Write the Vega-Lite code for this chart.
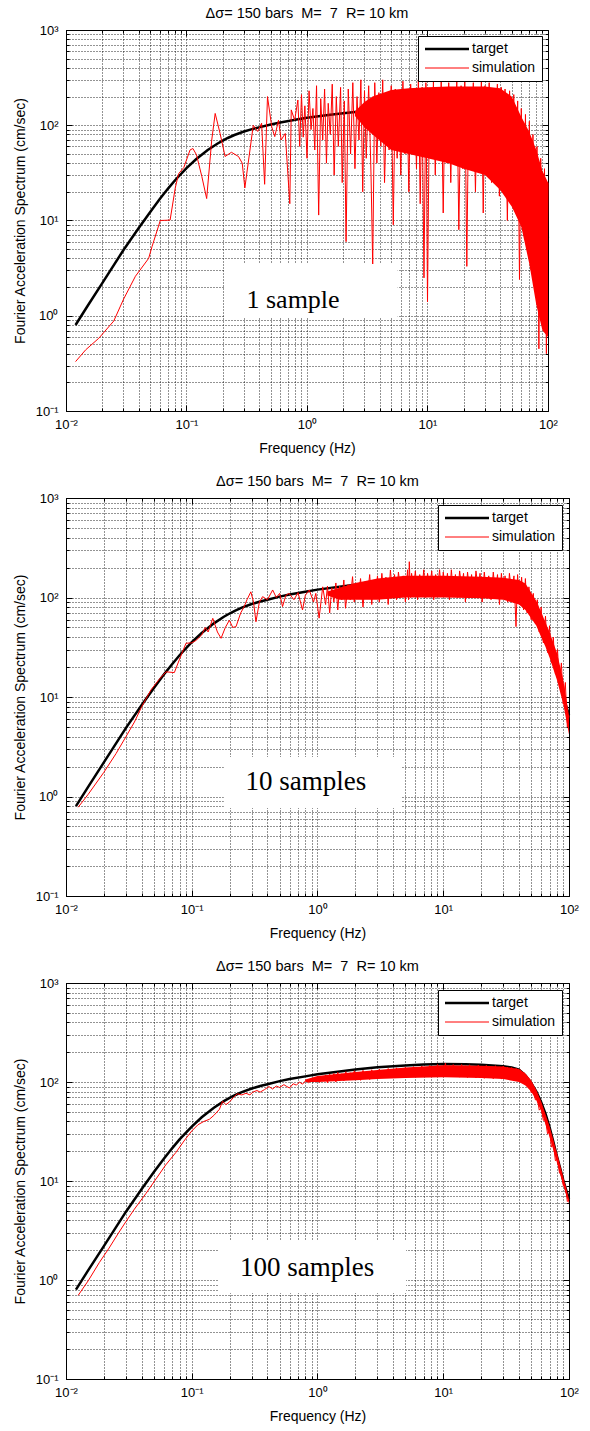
{
"$schema": "https://vega.github.io/schema/vega-lite/v6.json",
"background": "white",
"padding": {"left": 12, "top": 5, "right": 5, "bottom": 5},
"spacing": 17,
"resolve": {"scale": {"color": "independent", "x": "independent", "y": "independent"}, "legend": {"color": "independent"}},
"config": {
  "view": {"stroke": "#000", "strokeWidth": 1},
  "font": "Liberation Sans",
  "title": {"font": "Liberation Sans", "fontSize": 14.5, "fontWeight": "normal", "color": "#000", "offset": 3, "anchor": "middle"},
  "axis": {"domainColor": "#000", "tickColor": "#000", "tickWidth": 1, "gridColor": "#000", "gridDash": [1, 2], "gridOpacity": 0.85, "gridWidth": 1, "labelFont": "Liberation Sans", "labelFontSize": 13, "labelColor": "#000", "titleFont": "Liberation Sans", "titleFontSize": 14, "titleFontWeight": "normal", "titleColor": "#000", "labelOverlap": false, "labelFlush": false}
},
"vconcat": [
{
  "width": 482, "height": 381,
  "title": "Δσ=\u00a0150\u00a0bars\u00a0\u00a0M=\u00a0\u00a07\u00a0\u00a0R=\u00a010\u00a0km",
  "resolve": {"axis": {"x": "independent", "y": "independent"}},
  "layer": [
    {
      "data": {"values": "f,a\n0.012,0.8\n0.015,1.25\n0.02,2.2\n0.03,4.9\n0.04,8.3\n0.05,12.3\n0.06,16.8\n0.07,21.5\n0.08,26.3\n0.1,35.5\n0.12,44\n0.15,55\n0.18,64\n0.2,69\n0.22,73.5\n0.25,79\n0.3,86\n0.35,91\n0.4,95\n0.5,102\n0.6,107\n0.8,114\n1,120\n1.5,128\n2,134\n3,141\n5,147\n7,150\n10,152\n15,151\n20,149\n30,144\n35,140\n40,133\n45,117\n50,98\n55,80\n60,63\n65,48\n70,35\n75,25\n80,18\n85,13.5\n90,10.2\n95,8.1\n100,6.6", "format": {"type": "csv", "parse": {"f": "number", "a": "number"}}},
      "mark": {"type": "line", "strokeWidth": 2.5},
      "encoding": {
        "x": {"field": "f", "type": "quantitative", "scale": {"type": "log", "domain": [0.01, 100], "nice": false},
              "axis": {"orient": "bottom", "title": "Frequency (Hz)", "grid": true, "values": [0.01,0.02,0.03,0.04,0.05,0.06,0.07,0.08,0.09,0.1,0.2,0.3,0.4,0.5,0.6,0.7,0.8,0.9,1,2,3,4,5,6,7,8,9,10,20,30,40,50,60,70,80,90,100],
                       "labelExpr": "abs(log(datum.value)/LN10-round(log(datum.value)/LN10))<0.01 ? ['10⁻²','10⁻¹','10⁰','10¹','10²','10³'][round(log(datum.value)/LN10)+2] : ''",
                       "tickSize": {"condition": {"test": "abs(log(datum.value)/LN10-round(log(datum.value)/LN10))<0.01", "value": -6}, "value": -3},
                       "labelPadding": 13, "titlePadding": 7}},
        "y": {"field": "a", "type": "quantitative", "scale": {"type": "log", "domain": [0.1, 1000], "nice": false},
              "axis": {"orient": "left", "title": "Fourier Acceleration Spectrum (cm/sec)", "grid": true, "values": [0.1,0.2,0.3,0.4,0.5,0.6,0.7,0.8,0.9,1,2,3,4,5,6,7,8,9,10,20,30,40,50,60,70,80,90,100,200,300,400,500,600,700,800,900,1000],
                       "labelExpr": "abs(log(datum.value)/LN10-round(log(datum.value)/LN10))<0.01 ? ['10⁻²','10⁻¹','10⁰','10¹','10²','10³'][round(log(datum.value)/LN10)+2] : ''",
                       "tickSize": {"condition": {"test": "abs(log(datum.value)/LN10-round(log(datum.value)/LN10))<0.01", "value": -6}, "value": -3},
                       "labelPadding": 14, "titlePadding": 8}},
        "color": {"datum": "target", "type": "nominal", "scale": {"domain": ["target", "simulation"], "range": ["#000000", "#ff0000"]},
                  "legend": {"title": null, "orient": "top-right", "offset": 6, "padding": 6, "strokeColor": "#000", "fillColor": "#fff", "cornerRadius": 0, "symbolType": "M-2.2,0H2.2", "symbolSize": 400, "symbolOffset": 16, "labelOffset": 18, "labelFont": "Liberation Sans", "labelFontSize": 14, "labelColor": "#000", "rowPadding": 5,
                             "encode": {"symbols": {"update": {"strokeWidth": {"signal": "datum.value === 'target' ? 2.5 : 1"}}}}}}
      }
    },
    {
      "data": {"values": "f,lo,hi\n2.5,125,140\n3,95,175\n3.5,80,200\n5,55,235\n7,50,245\n10,45,250\n15,40,255\n20,35,255\n30,30,255\n40,21,245\n50,14,200\n60,8.6,123\n70,3.5,85\n80,1.3,55\n90,0.7,33\n100,0.6,25", "format": {"type": "csv", "parse": {"f": "number", "lo": "number", "hi": "number"}}},
      "mark": {"type": "area", "color": "#ff0000"},
      "encoding": {
        "x": {"field": "f", "type": "quantitative", "axis": null},
        "y": {"field": "lo", "type": "quantitative", "axis": null},
        "y2": {"field": "hi"}
      }
    },
    {
      "data": {"values": "f,a\n0.012,0.33\n0.0146,0.44\n0.0187,0.58\n0.0249,0.88\n0.0301,1.5\n0.0377,2.6\n0.0485,4\n0.0517,5.3\n0.0606,10\n0.0731,10.1\n0.0807,22\n0.086,31\n0.095,36\n0.107,55\n0.113,57\n0.121,49\n0.134,29\n0.147,17\n0.162,70\n0.173,133\n0.19,82\n0.209,47\n0.236,52\n0.27,47\n0.29,40\n0.305,22\n0.345,70\n0.358,100\n0.39,86\n0.42,105\n0.445,24\n0.47,200\n0.51,96\n0.54,76\n0.58,113\n0.61,70\n0.66,82\n0.72,15\n0.74,145\n0.79,113\n0.84,184\n0.87,60\n0.9,210\n0.93,75\n0.96,160\n1,45\n1.04,230\n1.08,90\n1.12,150\n1.16,55\n1.2,260\n1.25,11.4\n1.3,190\n1.35,70\n1.4,240\n1.45,40\n1.5,170\n1.56,80\n1.62,270\n1.68,30\n1.75,200\n1.82,60\n1.9,250\n1.96,25\n2.04,180\n2.11,6\n2.2,240\n2.3,50\n2.4,280\n2.5,35\n2.6,200\n2.7,70\n2.8,300\n2.9,20\n3,230\n3.1,45\n3.25,260\n3.4,30\n3.51,3.4\n3.65,280\n3.8,40\n3.95,220\n4.1,60\n4.25,300\n4.4,25\n4.6,190\n4.8,55\n5,260\n5.2,9\n5.4,240\n5.6,45\n5.8,200\n6,30\n6.25,290\n6.5,50\n6.75,230\n7,20\n7.25,270\n7.5,60\n7.8,210\n8.1,35\n8.4,300\n8.7,15\n9,250\n9.35,2.5\n9.7,280\n10,1.4\n10.4,240\n10.8,45\n11.2,290\n11.6,30\n12,220\n12.5,55\n13,300\n13.5,12\n14,250\n14.5,40\n15,280\n15.6,25\n16.2,230\n16.8,50\n17.5,290\n18.2,8\n19,260\n19.6,35\n20.4,300\n21.2,3.3\n22,240\n23,45\n24,280\n25,20\n26,250\n27,55\n28,290\n29,12\n30,260\n31,40\n32.5,280\n34,25\n35,240\n36.5,50\n38,270\n39.5,18\n41,250\n42.5,35\n44,240\n46,10\n48,230\n50,25\n52,210\n54,15\n56,180\n58,2.4\n60,150\n62.5,8\n65,130\n67.5,5\n70,110\n72.5,3\n75,80\n78,2\n81,60\n84,0.45\n87,45\n90,1.2\n93.5,35\n97,0.4\n100,25", "format": {"type": "csv", "parse": {"f": "number", "a": "number"}}},
      "mark": {"type": "line", "strokeWidth": 1},
      "encoding": {
        "x": {"field": "f", "type": "quantitative", "axis": null},
        "y": {"field": "a", "type": "quantitative", "axis": null},
        "color": {"datum": "simulation", "type": "nominal"}
      }
    },
    {
      "data": {"values": [{}]},
      "mark": {"type": "rect", "fill": "#fff"},
      "encoding": {
        "x": {"datum": 0.206, "type": "quantitative", "axis": {"orient": "top", "labels": false, "title": null, "grid": false, "domain": false, "values": [0.01,0.02,0.03,0.04,0.05,0.06,0.07,0.08,0.09,0.1,0.2,0.3,0.4,0.5,0.6,0.7,0.8,0.9,1,2,3,4,5,6,7,8,9,10,20,30,40,50,60,70,80,90,100],
              "tickSize": {"condition": {"test": "abs(log(datum.value)/LN10-round(log(datum.value)/LN10))<0.01", "value": -6}, "value": -3}}},
        "x2": {"datum": 5.65},
        "y": {"datum": 3.5, "type": "quantitative", "axis": {"orient": "right", "labels": false, "title": null, "grid": false, "domain": false, "values": [0.1,0.2,0.3,0.4,0.5,0.6,0.7,0.8,0.9,1,2,3,4,5,6,7,8,9,10,20,30,40,50,60,70,80,90,100,200,300,400,500,600,700,800,900,1000],
              "tickSize": {"condition": {"test": "abs(log(datum.value)/LN10-round(log(datum.value)/LN10))<0.01", "value": -6}, "value": -3}}},
        "y2": {"datum": 0.946}
      }
    },
    {
      "data": {"values": [{}]},
      "mark": {"type": "text", "text": "1 sample", "font": "Liberation Serif", "fontSize": 26, "align": "center", "baseline": "alphabetic", "color": "#000"},
      "encoding": {
        "x": {"datum": 0.766, "type": "quantitative", "axis": null},
        "y": {"datum": 1.2, "type": "quantitative", "axis": null}
      }
    }
  ]
},
{
  "width": 503, "height": 398,
  "title": "Δσ=\u00a0150\u00a0bars\u00a0\u00a0M=\u00a0\u00a07\u00a0\u00a0R=\u00a010\u00a0km",
  "resolve": {"axis": {"x": "independent", "y": "independent"}},
  "layer": [
    {
      "data": {"values": "f,a\n0.012,0.8\n0.015,1.25\n0.02,2.2\n0.03,4.9\n0.04,8.3\n0.05,12.3\n0.06,16.8\n0.07,21.5\n0.08,26.3\n0.1,35.5\n0.12,44\n0.15,55\n0.18,64\n0.2,69\n0.22,73.5\n0.25,79\n0.3,86\n0.35,91\n0.4,95\n0.5,102\n0.6,107\n0.8,114\n1,120\n1.5,128\n2,134\n3,141\n5,147\n7,150\n10,152\n15,151\n20,149\n30,144\n35,140\n40,133\n45,117\n50,98\n55,80\n60,63\n65,48\n70,35\n75,25\n80,18\n85,13.5\n90,10.2\n95,8.1\n100,6.6", "format": {"type": "csv", "parse": {"f": "number", "a": "number"}}},
      "mark": {"type": "line", "strokeWidth": 2.5},
      "encoding": {
        "x": {"field": "f", "type": "quantitative", "scale": {"type": "log", "domain": [0.01, 100], "nice": false},
              "axis": {"orient": "bottom", "title": "Frequency (Hz)", "grid": true, "values": [0.01,0.02,0.03,0.04,0.05,0.06,0.07,0.08,0.09,0.1,0.2,0.3,0.4,0.5,0.6,0.7,0.8,0.9,1,2,3,4,5,6,7,8,9,10,20,30,40,50,60,70,80,90,100],
                       "labelExpr": "abs(log(datum.value)/LN10-round(log(datum.value)/LN10))<0.01 ? ['10⁻²','10⁻¹','10⁰','10¹','10²','10³'][round(log(datum.value)/LN10)+2] : ''",
                       "tickSize": {"condition": {"test": "abs(log(datum.value)/LN10-round(log(datum.value)/LN10))<0.01", "value": -6}, "value": -3},
                       "labelPadding": 13, "titlePadding": 7}},
        "y": {"field": "a", "type": "quantitative", "scale": {"type": "log", "domain": [0.1, 1000], "nice": false},
              "axis": {"orient": "left", "title": "Fourier Acceleration Spectrum (cm/sec)", "grid": true, "values": [0.1,0.2,0.3,0.4,0.5,0.6,0.7,0.8,0.9,1,2,3,4,5,6,7,8,9,10,20,30,40,50,60,70,80,90,100,200,300,400,500,600,700,800,900,1000],
                       "labelExpr": "abs(log(datum.value)/LN10-round(log(datum.value)/LN10))<0.01 ? ['10⁻²','10⁻¹','10⁰','10¹','10²','10³'][round(log(datum.value)/LN10)+2] : ''",
                       "tickSize": {"condition": {"test": "abs(log(datum.value)/LN10-round(log(datum.value)/LN10))<0.01", "value": -6}, "value": -3},
                       "labelPadding": 14, "titlePadding": 8}},
        "color": {"datum": "target", "type": "nominal", "scale": {"domain": ["target", "simulation"], "range": ["#000000", "#ff0000"]},
                  "legend": {"title": null, "orient": "top-right", "offset": 7, "padding": 6, "strokeColor": "#000", "fillColor": "#fff", "cornerRadius": 0, "symbolType": "M-2.2,0H2.2", "symbolSize": 400, "symbolOffset": 16, "labelOffset": 18, "labelFont": "Liberation Sans", "labelFontSize": 14, "labelColor": "#000", "rowPadding": 5,
                             "encode": {"symbols": {"update": {"strokeWidth": {"signal": "datum.value === 'target' ? 2.5 : 1"}}}}}}
      }
    },
    {
      "data": {"values": "f,lo,hi\n1.2,105,115\n1.5,95,125\n2,95,140\n3,95,155\n5,100,165\n10,100,165\n20,98,162\n30,95,158\n40,85,150\n45,75,138\n50,62,112\n55,52,92\n60,40,72\n65,32,56\n70,25,45\n80,15,28\n90,8.5,15\n100,4.2,6.5", "format": {"type": "csv", "parse": {"f": "number", "lo": "number", "hi": "number"}}},
      "mark": {"type": "area", "color": "#ff0000"},
      "encoding": {
        "x": {"field": "f", "type": "quantitative", "axis": null},
        "y": {"field": "lo", "type": "quantitative", "axis": null},
        "y2": {"field": "hi"}
      }
    },
    {
      "data": {"values": "f,a\n0.0125,0.78\n0.015,1.05\n0.02,1.75\n0.025,2.7\n0.03,4\n0.035,5.6\n0.04,8\n0.0474,11.8\n0.055,15\n0.0624,17.9\n0.0727,17.6\n0.08,24\n0.09,34.7\n0.1,35\n0.108,37\n0.12,42\n0.128,50\n0.135,45\n0.147,61.8\n0.16,45\n0.171,38.9\n0.185,50\n0.199,59\n0.212,50\n0.225,51\n0.245,70\n0.26,80\n0.275,95\n0.295,114\n0.31,90\n0.324,57\n0.345,90\n0.366,102\n0.4,95\n0.44,119\n0.47,100\n0.5,110\n0.527,81\n0.56,105\n0.593,110\n0.65,95\n0.7,112\n0.76,75\n0.8,105\n0.86,119\n0.93,90\n0.97,110\n1.03,62\n1.1,128\n1.16,85\n1.2,130\n1.25,70\n1.3,125\n1.35,90\n1.4,140\n1.45,75\n1.5,130\n1.56,95\n1.62,150\n1.67,78\n1.75,135\n1.82,95\n1.9,162\n1.96,90\n2.04,140\n2.12,100\n2.2,155\n2.3,80\n2.4,145\n2.5,105\n2.6,170\n2.7,85\n2.8,150\n2.9,110\n3,165\n3.1,90\n3.25,175\n3.4,100\n3.5,160\n3.65,85\n3.8,189\n3.95,110\n4.1,170\n4.25,95\n4.4,180\n4.6,115\n4.8,165\n5,90\n5.2,190\n5.3,95\n5.37,229\n5.5,100\n5.6,175\n5.8,120\n6,185\n6.25,95\n6.5,170\n6.75,115\n7,190\n7.25,100\n7.5,175\n7.8,125\n8.1,185\n8.4,95\n8.7,170\n9,120\n9.35,190\n9.7,105\n10,180\n10.4,120\n10.8,175\n11.2,95\n11.6,190\n12,115\n12.5,170\n13,100\n13.5,185\n14,125\n14.5,175\n15,90\n15.6,180\n16.2,115\n16.8,170\n17.5,100\n18.2,185\n19,120\n19.6,175\n20.4,90\n21.2,180\n22,115\n23,165\n24,95\n25,180\n26,110\n27,170\n28,85\n29,175\n30,105\n31,165\n32.5,90\n33.6,175\n35,110\n36.5,165\n37.9,51\n39,170\n40.5,85\n42,160\n43.5,75\n45,155\n46.5,70\n48,128\n50,60\n52,110\n54,55\n56,95\n58,45\n60,80\n62.5,35\n65,65\n67.5,28\n70,52\n72.5,22\n75,40\n78,17\n81,30\n84,13.7\n87,22\n90,8.5\n93.5,14\n97,5\n100,6.5", "format": {"type": "csv", "parse": {"f": "number", "a": "number"}}},
      "mark": {"type": "line", "strokeWidth": 1},
      "encoding": {
        "x": {"field": "f", "type": "quantitative", "axis": null},
        "y": {"field": "a", "type": "quantitative", "axis": null},
        "color": {"datum": "simulation", "type": "nominal"}
      }
    },
    {
      "data": {"values": [{}]},
      "mark": {"type": "rect", "fill": "#fff"},
      "encoding": {
        "x": {"datum": 0.18, "type": "quantitative", "axis": {"orient": "top", "labels": false, "title": null, "grid": false, "domain": false, "values": [0.01,0.02,0.03,0.04,0.05,0.06,0.07,0.08,0.09,0.1,0.2,0.3,0.4,0.5,0.6,0.7,0.8,0.9,1,2,3,4,5,6,7,8,9,10,20,30,40,50,60,70,80,90,100],
              "tickSize": {"condition": {"test": "abs(log(datum.value)/LN10-round(log(datum.value)/LN10))<0.01", "value": -6}, "value": -3}}},
        "x2": {"datum": 4.61},
        "y": {"datum": 2.49, "type": "quantitative", "axis": {"orient": "right", "labels": false, "title": null, "grid": false, "domain": false, "values": [0.1,0.2,0.3,0.4,0.5,0.6,0.7,0.8,0.9,1,2,3,4,5,6,7,8,9,10,20,30,40,50,60,70,80,90,100,200,300,400,500,600,700,800,900,1000],
              "tickSize": {"condition": {"test": "abs(log(datum.value)/LN10-round(log(datum.value)/LN10))<0.01", "value": -6}, "value": -3}}},
        "y2": {"datum": 0.766}
      }
    },
    {
      "data": {"values": [{}]},
      "mark": {"type": "text", "text": "10 samples", "font": "Liberation Serif", "fontSize": 27, "align": "center", "baseline": "alphabetic", "color": "#000"},
      "encoding": {
        "x": {"datum": 0.81, "type": "quantitative", "axis": null},
        "y": {"datum": 1.16, "type": "quantitative", "axis": null}
      }
    }
  ]
},
{
  "width": 503, "height": 396,
  "title": "Δσ=\u00a0150\u00a0bars\u00a0\u00a0M=\u00a0\u00a07\u00a0\u00a0R=\u00a010\u00a0km",
  "resolve": {"axis": {"x": "independent", "y": "independent"}},
  "layer": [
    {
      "data": {"values": "f,a\n0.012,0.8\n0.015,1.25\n0.02,2.2\n0.03,4.9\n0.04,8.3\n0.05,12.3\n0.06,16.8\n0.07,21.5\n0.08,26.3\n0.1,35.5\n0.12,44\n0.15,55\n0.18,64\n0.2,69\n0.22,73.5\n0.25,79\n0.3,86\n0.35,91\n0.4,95\n0.5,102\n0.6,107\n0.8,114\n1,120\n1.5,128\n2,134\n3,141\n5,147\n7,150\n10,152\n15,151\n20,149\n30,144\n35,140\n40,133\n45,117\n50,98\n55,80\n60,63\n65,48\n70,35\n75,25\n80,18\n85,13.5\n90,10.2\n95,8.1\n100,6.6", "format": {"type": "csv", "parse": {"f": "number", "a": "number"}}},
      "mark": {"type": "line", "strokeWidth": 2.5},
      "encoding": {
        "x": {"field": "f", "type": "quantitative", "scale": {"type": "log", "domain": [0.01, 100], "nice": false},
              "axis": {"orient": "bottom", "title": "Frequency (Hz)", "grid": true, "values": [0.01,0.02,0.03,0.04,0.05,0.06,0.07,0.08,0.09,0.1,0.2,0.3,0.4,0.5,0.6,0.7,0.8,0.9,1,2,3,4,5,6,7,8,9,10,20,30,40,50,60,70,80,90,100],
                       "labelExpr": "abs(log(datum.value)/LN10-round(log(datum.value)/LN10))<0.01 ? ['10⁻²','10⁻¹','10⁰','10¹','10²','10³'][round(log(datum.value)/LN10)+2] : ''",
                       "tickSize": {"condition": {"test": "abs(log(datum.value)/LN10-round(log(datum.value)/LN10))<0.01", "value": -6}, "value": -3},
                       "labelPadding": 13, "titlePadding": 7}},
        "y": {"field": "a", "type": "quantitative", "scale": {"type": "log", "domain": [0.1, 1000], "nice": false},
              "axis": {"orient": "left", "title": "Fourier Acceleration Spectrum (cm/sec)", "grid": true, "values": [0.1,0.2,0.3,0.4,0.5,0.6,0.7,0.8,0.9,1,2,3,4,5,6,7,8,9,10,20,30,40,50,60,70,80,90,100,200,300,400,500,600,700,800,900,1000],
                       "labelExpr": "abs(log(datum.value)/LN10-round(log(datum.value)/LN10))<0.01 ? ['10⁻²','10⁻¹','10⁰','10¹','10²','10³'][round(log(datum.value)/LN10)+2] : ''",
                       "tickSize": {"condition": {"test": "abs(log(datum.value)/LN10-round(log(datum.value)/LN10))<0.01", "value": -6}, "value": -3},
                       "labelPadding": 14, "titlePadding": 8}},
        "color": {"datum": "target", "type": "nominal", "scale": {"domain": ["target", "simulation"], "range": ["#000000", "#ff0000"]},
                  "legend": {"title": null, "orient": "top-right", "offset": 7, "padding": 6, "strokeColor": "#000", "fillColor": "#fff", "cornerRadius": 0, "symbolType": "M-2.2,0H2.2", "symbolSize": 400, "symbolOffset": 16, "labelOffset": 18, "labelFont": "Liberation Sans", "labelFontSize": 14, "labelColor": "#000", "rowPadding": 5,
                             "encode": {"symbols": {"update": {"strokeWidth": {"signal": "datum.value === 'target' ? 2.5 : 1"}}}}}}
      }
    },
    {
      "data": {"values": "f,lo,hi\n0.8,100,106\n1,100,115\n2,104,126\n3,107,132\n5,110,140\n10,112,148\n20,110,146\n30,107,143\n40,100,135\n45,92,122\n50,80,104\n55,65,83\n60,51,64\n70,28,36\n80,15.5,19.5\n90,9,11\n100,5.9,6.6", "format": {"type": "csv", "parse": {"f": "number", "lo": "number", "hi": "number"}}},
      "mark": {"type": "area", "color": "#ff0000"},
      "encoding": {
        "x": {"field": "f", "type": "quantitative", "axis": null},
        "y": {"field": "lo", "type": "quantitative", "axis": null},
        "y2": {"field": "hi"}
      }
    },
    {
      "data": {"values": "f,a\n0.0125,0.7\n0.015,0.98\n0.0184,1.5\n0.022,2.1\n0.026,2.95\n0.03,3.9\n0.035,5.2\n0.0433,7.5\n0.052,10.5\n0.062,14.5\n0.075,19.5\n0.088,26\n0.1,32\n0.112,37\n0.125,40\n0.138,42\n0.15,46\n0.166,53\n0.176,64\n0.187,59\n0.2,63\n0.215,70\n0.23,76\n0.25,74\n0.27,77\n0.29,74\n0.305,79\n0.33,82\n0.35,79\n0.38,84\n0.41,90\n0.44,85\n0.47,91\n0.5,88\n0.54,94\n0.57,90\n0.6,87\n0.64,96\n0.68,93\n0.72,100\n0.76,95\n0.81,104\n0.85,98\n0.9,108\n0.95,100\n1,113\n1.04,99\n1.08,115\n1.12,102\n1.16,118\n1.2,98\n1.25,120\n1.3,104\n1.35,122\n1.4,100\n1.45,125\n1.5,106\n1.56,121\n1.62,103\n1.68,127\n1.75,108\n1.82,124\n1.9,105\n1.96,130\n2.04,109\n2.12,126\n2.2,104\n2.3,131\n2.4,110\n2.5,128\n2.6,106\n2.7,133\n2.8,112\n2.9,129\n3,108\n3.1,135\n3.25,113\n3.4,131\n3.5,110\n3.65,137\n3.8,114\n3.95,133\n4.1,111\n4.25,139\n4.4,116\n4.6,135\n4.8,112\n5,141\n5.2,117\n5.4,137\n5.6,113\n5.8,143\n6,118\n6.25,139\n6.5,114\n6.75,145\n7,119\n7.25,140\n7.5,115\n7.8,147\n8.1,120\n8.4,142\n8.7,113\n9,150\n9.35,118\n9.7,144\n10,112\n10.4,155\n10.8,117\n11.2,146\n11.6,113\n12,150\n12.5,118\n13,145\n13.5,112\n14,150\n14.5,116\n15,146\n15.6,111\n16.2,149\n16.8,115\n17.5,145\n18.2,110\n19,148\n19.6,114\n20.4,144\n21.2,109\n22,147\n23,113\n24,143\n25,108\n26,146\n27,112\n28,142\n29,107\n30,145\n31,111\n32.5,141\n34,106\n35,140\n36.5,108\n38,137\n39.5,103\n41,133\n42.5,100\n44,124\n46,92\n48,106\n50,78\n52,86\n54,66\n56,68\n58,52\n60,55\n62.5,41\n65,42\n67.5,30\n70,32\n72.5,22\n75,24\n78,16\n81,17\n84,12\n87,12.5\n90,9\n93.5,9\n97,6.2\n100,6.5", "format": {"type": "csv", "parse": {"f": "number", "a": "number"}}},
      "mark": {"type": "line", "strokeWidth": 1},
      "encoding": {
        "x": {"field": "f", "type": "quantitative", "axis": null},
        "y": {"field": "a", "type": "quantitative", "axis": null},
        "color": {"datum": "simulation", "type": "nominal"}
      }
    },
    {
      "data": {"values": [{}]},
      "mark": {"type": "rect", "fill": "#fff"},
      "encoding": {
        "x": {"datum": 0.162, "type": "quantitative", "axis": {"orient": "top", "labels": false, "title": null, "grid": false, "domain": false, "values": [0.01,0.02,0.03,0.04,0.05,0.06,0.07,0.08,0.09,0.1,0.2,0.3,0.4,0.5,0.6,0.7,0.8,0.9,1,2,3,4,5,6,7,8,9,10,20,30,40,50,60,70,80,90,100],
              "tickSize": {"condition": {"test": "abs(log(datum.value)/LN10-round(log(datum.value)/LN10))<0.01", "value": -6}, "value": -3}}},
        "x2": {"datum": 5.06},
        "y": {"datum": 2.48, "type": "quantitative", "axis": {"orient": "right", "labels": false, "title": null, "grid": false, "domain": false, "values": [0.1,0.2,0.3,0.4,0.5,0.6,0.7,0.8,0.9,1,2,3,4,5,6,7,8,9,10,20,30,40,50,60,70,80,90,100,200,300,400,500,600,700,800,900,1000],
              "tickSize": {"condition": {"test": "abs(log(datum.value)/LN10-round(log(datum.value)/LN10))<0.01", "value": -6}, "value": -3}}},
        "y2": {"datum": 0.74}
      }
    },
    {
      "data": {"values": [{}]},
      "mark": {"type": "text", "text": "100 samples", "font": "Liberation Serif", "fontSize": 27, "align": "center", "baseline": "alphabetic", "color": "#000"},
      "encoding": {
        "x": {"datum": 0.826, "type": "quantitative", "axis": null},
        "y": {"datum": 1.1, "type": "quantitative", "axis": null}
      }
    }
  ]
}
]
}
